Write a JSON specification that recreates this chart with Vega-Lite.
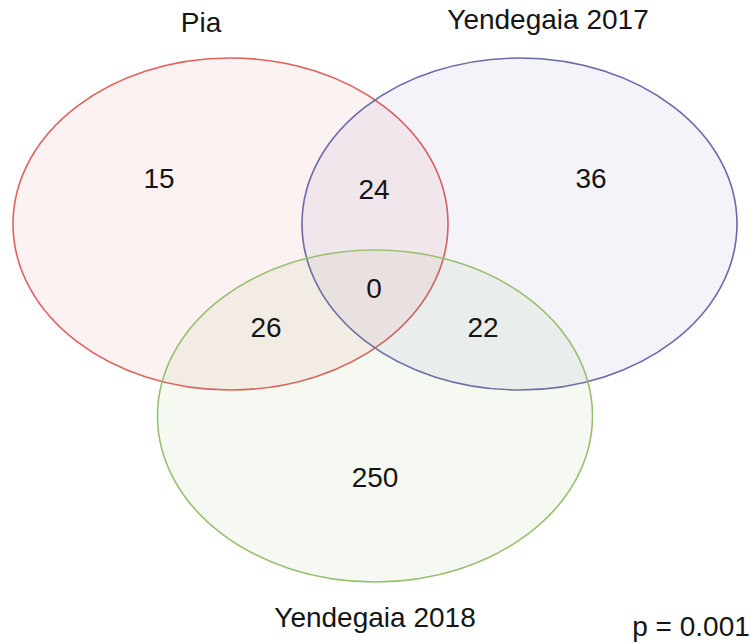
{
  "$schema": "https://vega.github.io/schema/vega-lite/v6.json",
  "width": 754,
  "height": 644,
  "autosize": {"type": "fit", "contains": "padding"},
  "padding": 0,
  "background": "white",
  "config": {"view": {"stroke": null}},
  "datasets": {
    "sets": [
      {"set": "Pia", "cx": 230.5, "cy": 224},
      {"set": "Yendegaia 2017", "cx": 519.5, "cy": 224},
      {"set": "Yendegaia 2018", "cx": 375, "cy": 416}
    ],
    "texts": [
      {"text": "Pia", "x": 201, "y": 32},
      {"text": "Yendegaia 2017", "x": 548, "y": 29},
      {"text": "Yendegaia 2018", "x": 375, "y": 627},
      {"text": "p = 0.001", "x": 691, "y": 636},
      {"text": "15", "x": 159, "y": 188},
      {"text": "24", "x": 374, "y": 199},
      {"text": "36", "x": 591, "y": 188},
      {"text": "0", "x": 374, "y": 298},
      {"text": "26", "x": 266, "y": 337},
      {"text": "22", "x": 483, "y": 337},
      {"text": "250", "x": 375, "y": 487}
    ]
  },
  "layer": [
    {
      "data": {"name": "sets"},
      "mark": {
        "type": "point",
        "shape": "M-1,0A1,0.763,0,1,1,1,0A1,0.763,0,1,1,-1,0Z",
        "size": 189225,
        "filled": true,
        "opacity": 1,
        "fillOpacity": 0.07,
        "strokeOpacity": 1,
        "strokeWidth": 1.6
      },
      "encoding": {
        "x": {"field": "cx", "type": "quantitative", "scale": {"domain": [0, 754], "nice": false, "zero": false}, "axis": null},
        "y": {"field": "cy", "type": "quantitative", "scale": {"domain": [0, 644], "nice": false, "zero": false, "reverse": true}, "axis": null},
        "fill": {"field": "set", "type": "nominal", "scale": {"domain": ["Pia", "Yendegaia 2017", "Yendegaia 2018"], "range": ["#e04a40", "#5050b0", "#78b040"]}, "legend": null},
        "stroke": {"field": "set", "type": "nominal", "scale": {"domain": ["Pia", "Yendegaia 2017", "Yendegaia 2018"], "range": ["#e0605c", "#6a6aaa", "#96c06c"]}, "legend": null}
      }
    },
    {
      "data": {"name": "texts"},
      "mark": {"type": "text", "font": "Liberation Sans", "fontSize": 28, "baseline": "alphabetic", "align": "center", "color": "#151515"},
      "encoding": {
        "x": {"field": "x", "type": "quantitative", "scale": {"domain": [0, 754], "nice": false, "zero": false}, "axis": null},
        "y": {"field": "y", "type": "quantitative", "scale": {"domain": [0, 644], "nice": false, "zero": false, "reverse": true}, "axis": null},
        "text": {"field": "text", "type": "nominal"}
      }
    }
  ]
}
